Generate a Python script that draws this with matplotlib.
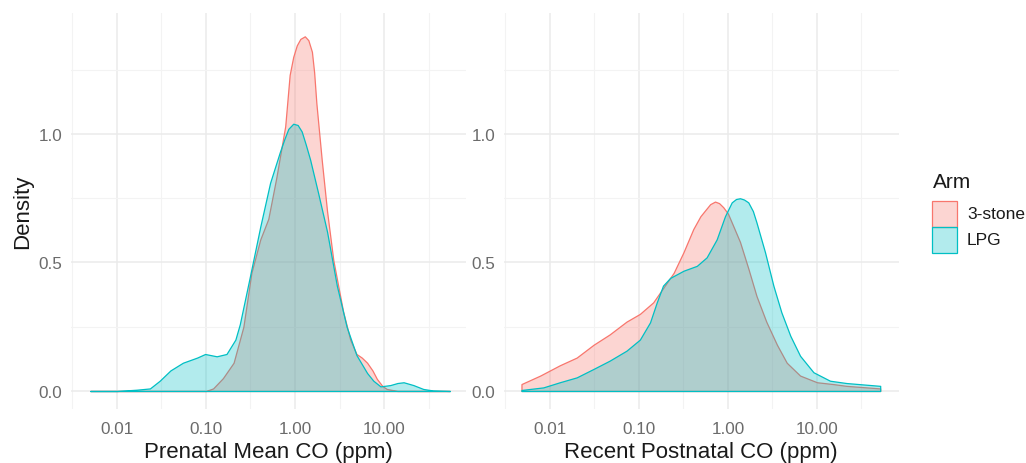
import numpy as np
import matplotlib
matplotlib.use('Agg')
import matplotlib.pyplot as plt
from matplotlib.colors import to_rgba
from matplotlib.patches import Rectangle
from matplotlib.ticker import NullFormatter

plt.rcParams['font.family'] = ['Liberation Sans', 'DejaVu Sans']

arms = ['3-stone', 'LPG']
arm_colors = ['#F8766D', '#00BFC4']

# CO on log10(ppm), density
pre_stone_log = [-2.30, -1.50, -1.00, -0.92, -0.81, -0.69, -0.58, -0.49, -0.39, -0.30,
                 -0.21, -0.11, -0.06, -0.02, 0.02, 0.06, 0.11, 0.15, 0.19, 0.215,
                 0.24, 0.27, 0.30, 0.33, 0.36, 0.43, 0.54, 0.62, 0.69, 0.75,
                 0.81, 0.87, 0.92, 0.98, 1.03, 1.15, 1.74]
pre_stone_dens = [0.0, 0.0, 0.0, 0.01, 0.05, 0.11, 0.25, 0.46, 0.59, 0.67,
                  0.83, 1.03, 1.23, 1.30, 1.345, 1.37, 1.38, 1.365, 1.32, 1.24,
                  1.12, 1.01, 0.90, 0.80, 0.70, 0.51, 0.31, 0.20, 0.144, 0.13,
                  0.11, 0.08, 0.047, 0.02, 0.008, 0.0, 0.0]

pre_lpg_log = [-2.30, -2.00, -1.78, -1.63, -1.52, -1.40, -1.26, -1.10, -1.01, -0.88,
               -0.77, -0.67, -0.62, -0.51, -0.39, -0.28, -0.17, -0.12, -0.075, -0.02,
               0.03, 0.075, 0.12, 0.17, 0.26, 0.36, 0.47, 0.58, 0.69, 0.81,
               0.88, 0.96, 1.07, 1.15, 1.22, 1.33, 1.44, 1.55, 1.74]
pre_lpg_dens = [0.0, 0.0, 0.005, 0.01, 0.04, 0.08, 0.11, 0.13, 0.144, 0.135,
                0.144, 0.20, 0.26, 0.44, 0.64, 0.81, 0.93, 0.98, 1.02, 1.04,
                1.035, 1.01, 0.96, 0.90, 0.77, 0.62, 0.41, 0.25, 0.14, 0.07,
                0.04, 0.018, 0.023, 0.031, 0.034, 0.023, 0.008, 0.002, 0.0]

post_stone_log = [-2.32, -2.11, -1.89, -1.70, -1.51, -1.33, -1.14, -0.99, -0.84, -0.73,
                  -0.61, -0.50, -0.39, -0.31, -0.24, -0.20, -0.146, -0.10, -0.053, 0.0,
                  0.042, 0.135, 0.23, 0.32, 0.43, 0.55, 0.66, 0.81, 1.00, 1.18,
                  1.33, 1.71]
post_stone_dens = [0.027, 0.06, 0.10, 0.13, 0.18, 0.22, 0.27, 0.30, 0.345, 0.40,
                   0.46, 0.54, 0.63, 0.68, 0.71, 0.727, 0.737, 0.731, 0.715, 0.69,
                   0.656, 0.58, 0.475, 0.37, 0.27, 0.18, 0.11, 0.06, 0.034, 0.027,
                   0.02, 0.01]

post_lpg_log = [-2.32, -2.075, -1.89, -1.70, -1.51, -1.33, -1.14, -0.99, -0.876, -0.80,
                -0.73, -0.65, -0.50, -0.35, -0.24, -0.127, -0.034, 0.042, 0.09, 0.135,
                0.18, 0.228, 0.28, 0.32, 0.416, 0.51, 0.60, 0.70, 0.81, 0.96,
                1.146, 1.33, 1.71]
post_lpg_dens = [0.004, 0.014, 0.034, 0.053, 0.086, 0.118, 0.157, 0.20, 0.267, 0.345,
                 0.41, 0.44, 0.468, 0.487, 0.52, 0.59, 0.68, 0.734, 0.747, 0.75,
                 0.745, 0.734, 0.70, 0.656, 0.54, 0.41, 0.306, 0.215, 0.137, 0.073,
                 0.04, 0.031, 0.02]

panels = [
    ('Prenatal Mean CO (ppm)', [(pre_stone_log, pre_stone_dens), (pre_lpg_log, pre_lpg_dens)]),
    ('Recent Postnatal CO (ppm)', [(post_stone_log, post_stone_dens), (post_lpg_log, post_lpg_dens)]),
]

xtick_vals = [0.01, 0.1, 1, 10]
xtick_labels = ['0.01', '0.10', '1.00', '10.00']

W, H = 1026, 464
fig = plt.figure(figsize=(W / 100, H / 100), dpi=100)
lefts = [0.0689, 0.4909]

for k, (title, curves) in enumerate(panels):
    ax = fig.add_axes([lefts[k], 0.1164, 0.3852, 0.853])
    for (lx, dens), col in zip(curves, arm_colors):
        x = 10 ** np.array(lx)
        ax.fill_between(x, dens, 0, facecolor=to_rgba(col, 0.3), edgecolor=col, lw=0.9)
    ax.set_xscale('log')
    ax.set_xlim(10 ** -2.52, 10 ** 1.92)
    ax.set_ylim(-0.07, 1.47)
    ax.set_xticks(xtick_vals)
    ax.set_xticklabels(xtick_labels)
    ax.set_xticks(10 ** np.array([-2.5, -1.5, -0.5, 0.5, 1.5]), minor=True)
    ax.xaxis.set_minor_formatter(NullFormatter())
    ax.set_yticks([0, 0.5, 1.0])
    ax.set_yticklabels(['0.0', '0.5', '1.0'])
    ax.set_yticks([0.25, 0.75, 1.25], minor=True)
    ax.grid(which='major', color='#EBEBEB', lw=1.1)
    ax.grid(which='minor', color='#F3F3F3', lw=0.8)
    ax.set_axisbelow(True)
    for s in ax.spines.values():
        s.set_visible(False)
    ax.tick_params(which='both', length=0, labelsize=12.3, colors='#6b6b6b')
    ax.tick_params(axis='x', pad=9)
    ax.tick_params(axis='y', pad=6)
    ax.set_xlabel(title, fontsize=16, color='#1a1a1a', labelpad=3)
    if k == 0:
        ax.set_ylabel('Density', fontsize=16, color='#1a1a1a', labelpad=4)

# legend, drawn by hand so the keys sit like ggplot's
fig.text(933 / W, 1 - 183 / H, 'Arm', fontsize=15, color='#1a1a1a', ha='left', va='center')
key_tops = [202, 228]
for i, (arm, col) in enumerate(zip(arms, arm_colors)):
    top = key_tops[i]
    fig.patches.append(Rectangle((932 / W, 1 - (top + 25.5) / H), 25 / W, 25.5 / H,
                                 transform=fig.transFigure, facecolor=to_rgba(col, 0.3),
                                 edgecolor=col, lw=0.9))
    fig.text(967 / W, 1 - (top + 13) / H, arm, fontsize=12.5, color='#1a1a1a',
             ha='left', va='center')

fig.savefig('out.png', dpi=100)
